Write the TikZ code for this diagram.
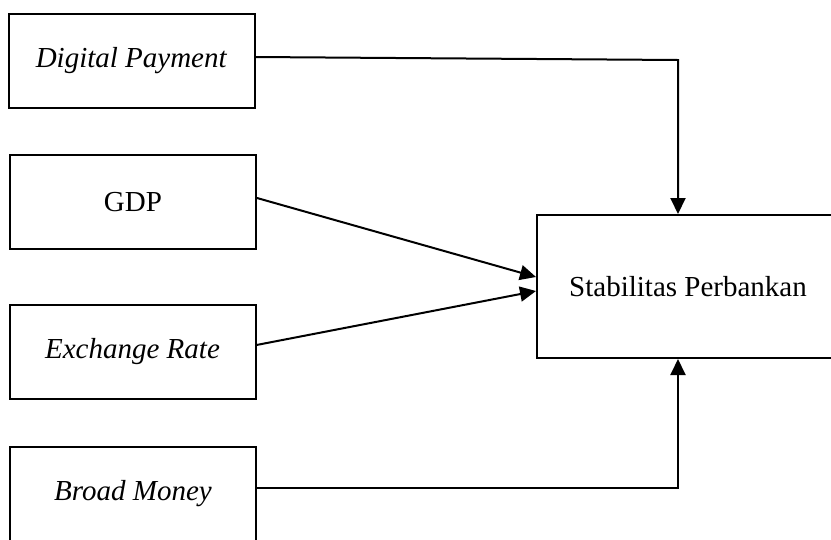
\documentclass[tikz,border=0pt]{standalone}
\usepackage{fontspec}
\setmainfont{Liberation Serif}
\usetikzlibrary{arrows.meta,positioning,calc}
\tikzset{
	block/.style={
		rectangle,
		draw=black,
		line width=2pt,
		fill=white,
		minimum height=94pt,
		minimum width=246pt,
		font=\fontsize{29}{34}\selectfont,
		text centered
	},
	result/.style={
		block,
		minimum height=143pt,
		minimum width=302pt
	},
	arrow/.style={
		draw=black,
		line width=2pt,
		-{Triangle[length=16pt,width=15pt]}
	},
}

\begin{document}
\begin{tikzpicture}[x=1pt,y=-1pt]
\useasboundingbox (0,0) rectangle (831,539);
\clip (0,0) rectangle (831,539);
\node [block] (dp) at (131.5,61) {\textit{Digital Payment}};
\node [block] (gdp) at (133,202) {GDP};
\node [block] (er) at (132.5,352) {\textit{Exchange Rate}};
\node [block] (bm) at (133,494) {\textit{Broad Money}};
\node [result] (sp) at (688,286.5) {Stabilitas Perbankan};

\coordinate (c1) at (678,60);
\coordinate (c2) at (678,488);

\draw[arrow] ([yshift=4pt]dp.east) -- (c1) -- (c1 |- sp.north);
\draw[arrow] ([yshift=4pt]gdp.east) -- ([yshift=9.5pt]sp.west);
\draw[arrow] ([yshift=7pt]er.east) -- ([yshift=-4.5pt]sp.west);
\draw[arrow] ([yshift=6pt]bm.east) -- (c2) -- (c2 |- sp.south);
\end{tikzpicture}
\end{document}
